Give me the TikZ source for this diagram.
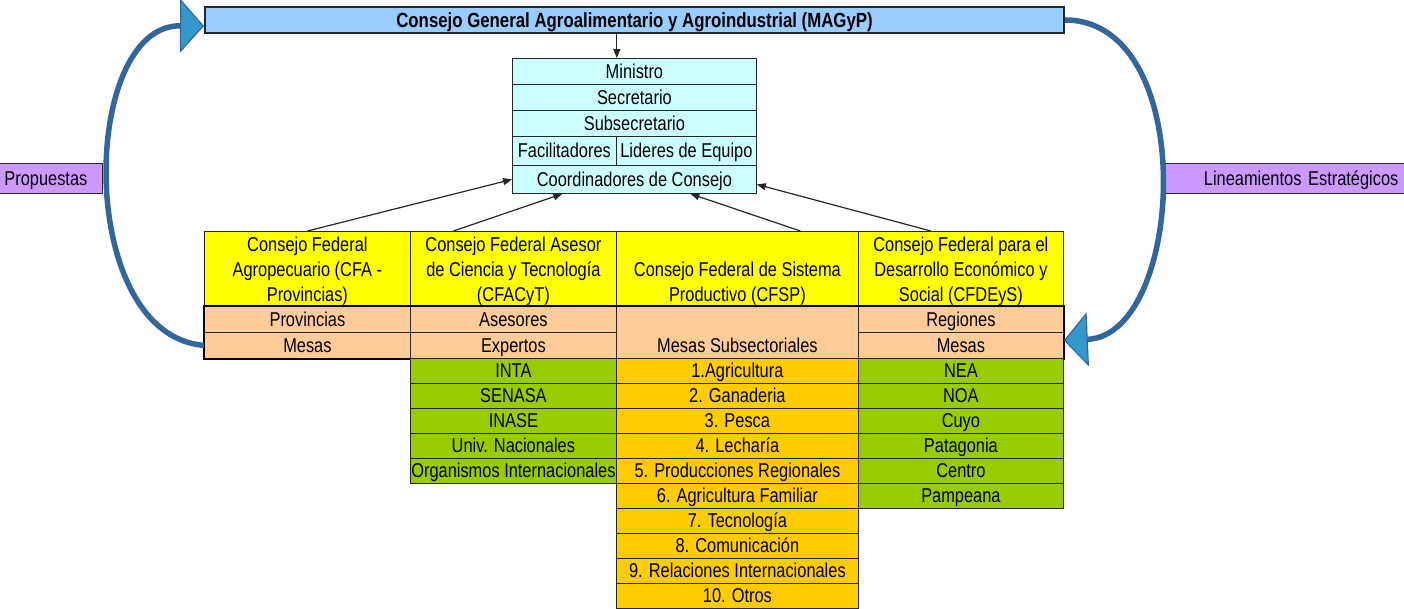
\documentclass[tikz,border=0pt]{standalone}
\usepackage{fontspec}
\setmainfont[FakeStretch=0.82]{Liberation Sans}
\usetikzlibrary{arrows.meta,bending,positioning}

\definecolor{barblue}{HTML}{99CCFF}
\definecolor{minicyan}{HTML}{CCFFFF}
\definecolor{lilac}{HTML}{CC99FF}
\definecolor{consyellow}{HTML}{FFFF00}
\definecolor{peach}{HTML}{FFCC99}
\definecolor{leafgreen}{HTML}{99CC00}
\definecolor{mesaorange}{HTML}{FFCC00}
\definecolor{loopblue}{HTML}{33679B}
\definecolor{headblue}{HTML}{3399CC}

\newcommand{\topgap}{\rule{0pt}{20.5pt}}
\newcommand{\botgap}{\rule[-4.5pt]{0pt}{4.5pt}}

\begin{document}
\begin{tikzpicture}[x=1pt,y=-1pt,font=\fontsize{20}{25}\selectfont,
  cell/.style={draw=black!85,line width=0.8pt,inner sep=0pt,anchor=north west,minimum height=25pt,text height=14pt,text depth=0pt},
  block/.style={cell,text height={},text depth={},align=center},
  feed/.style={draw=black!85,line width=1.2pt,-{Triangle[length=9pt,width=7pt]}},
  bigcurve/.style={draw=loopblue,line width=5.5pt,-{Triangle[quick,length=24pt,width=54pt,fill=headblue,line width=1.2pt]}}]
  \useasboundingbox (0,0) rectangle (1404,608);

  % consejo general
  \node[cell,fill=barblue,line width=2pt,minimum width=859pt,minimum height=26pt,font=\fontsize{20.5}{25}\selectfont\bfseries] (cgen) at (204,6) {Consejo General Agroalimentario y Agroindustrial (MAGyP)};

  % ministerio
  \node[cell,fill=minicyan,minimum width=244pt,minimum height=26pt] (mini) at (512,58) {Ministro};
  \node[cell,fill=minicyan,minimum width=244pt,minimum height=26pt] (secr) at (512,84) {Secretario};
  \node[cell,fill=minicyan,minimum width=244pt,minimum height=26pt] (subs) at (512,110) {Subsecretario};
  \node[cell,fill=minicyan,minimum width=104pt,minimum height=29pt] (faci) at (512,136) {Facilitadores};
  \node[cell,fill=minicyan,minimum width=140pt,minimum height=29pt] (lide) at (616,136) {Lideres de Equipo};
  \node[cell,fill=minicyan,minimum width=244pt,minimum height=28pt] (coord) at (512,165) {Coordinadores de Consejo};

  % laterales
  \node[cell,fill=lilac,minimum height=30pt,inner xsep=6pt,text width=92pt,align=left] (prop) at (-2,163) {Propuestas};
  \node[cell,fill=lilac,minimum height=30pt,inner xsep=8pt,text width=225pt,align=right] (linea) at (1165,163) {Lineamientos Estratégicos};

  % consejos federales
  \node[block,fill=consyellow,minimum width=206pt,minimum height=75pt] (cfa) at (204,231) {\topgap Consejo Federal\\Agropecuario (CFA -\\Provincias)\botgap};
  \node[block,fill=consyellow,minimum width=206pt,minimum height=75pt] (cfac) at (410,231) {\topgap Consejo Federal Asesor\\de Ciencia y Tecnología\\(CFACyT)\botgap};
  \node[block,fill=consyellow,minimum width=242pt,minimum height=75pt] (cfsp) at (616,231) {\topgap\\Consejo Federal de Sistema\\Productivo (CFSP)\botgap};
  \node[block,fill=consyellow,minimum width=205pt,minimum height=75pt] (cfde) at (858,231) {\topgap Consejo Federal para el\\Desarrollo Económico y\\Social (CFDEyS)\botgap};

  % mesas
  \node[cell,fill=peach,minimum width=206pt,minimum height=26pt] (provA) at (204,306) {Provincias};
  \node[cell,fill=peach,minimum width=206pt,minimum height=26pt] (mesaA) at (204,332) {Mesas};
  \node[cell,fill=peach,minimum width=206pt,minimum height=26pt] (aseB) at (410,306) {Asesores};
  \node[cell,fill=peach,minimum width=206pt,minimum height=26pt] (expB) at (410,332) {Expertos};
  \node[block,fill=peach,minimum width=242pt,minimum height=52pt] (mesC) at (616,306) {\topgap\\Mesas Subsectoriales\botgap};
  \node[cell,fill=peach,minimum width=205pt,minimum height=26pt] (regD) at (858,306) {Regiones};
  \node[cell,fill=peach,minimum width=205pt,minimum height=26pt] (mesaD) at (858,332) {Mesas};
  \draw[line width=2pt] (provA.north west) rectangle (mesaD.south east);

  % listas
  \foreach \t [count=\i] in {INTA,SENASA,INASE,Univ. Nacionales,Organismos Internacionales}
    \node[cell,fill=leafgreen,minimum width=206pt] (inst\i) at (410,{333+25*\i}) {\t};
  \foreach \t [count=\i] in {1.Agricultura,2. Ganaderia,3. Pesca,4. Lecharía,5. Producciones Regionales,6. Agricultura Familiar,7. Tecnología,8. Comunicación,9. Relaciones Internacionales,10. Otros}
    \node[cell,fill=mesaorange,minimum width=242pt] (sub\i) at (616,{333+25*\i}) {\t};
  \foreach \t [count=\i] in {NEA,NOA,Cuyo,Patagonia,Centro,Pampeana}
    \node[cell,fill=leafgreen,minimum width=205pt] (reg\i) at (858,{333+25*\i}) {\t};

  % flechas
  \draw[feed] (cgen.south -| faci.east) -- (mini.north -| faci.east);
  \draw[feed] (cfa.north) -- (coord.west);
  \draw[feed] ([xshift=-60pt]cfac.north) -- ([xshift=-72pt]coord.south);
  \draw[feed] ([xshift=63pt]cfsp.north) -- ([xshift=56pt]coord.south);
  \draw[feed] ([xshift=-30pt]cfde.north) -- ([yshift=-5pt]coord.east);

  \draw[bigcurve] (mesaA.west) .. controls (75,335) and (80,25) .. ([yshift=-6pt]cgen.west);
  \draw[bigcurve] (cgen.east) .. controls (1200,20) and (1185,335) .. ([yshift=5pt]mesaD.east);
\end{tikzpicture}
\end{document}
